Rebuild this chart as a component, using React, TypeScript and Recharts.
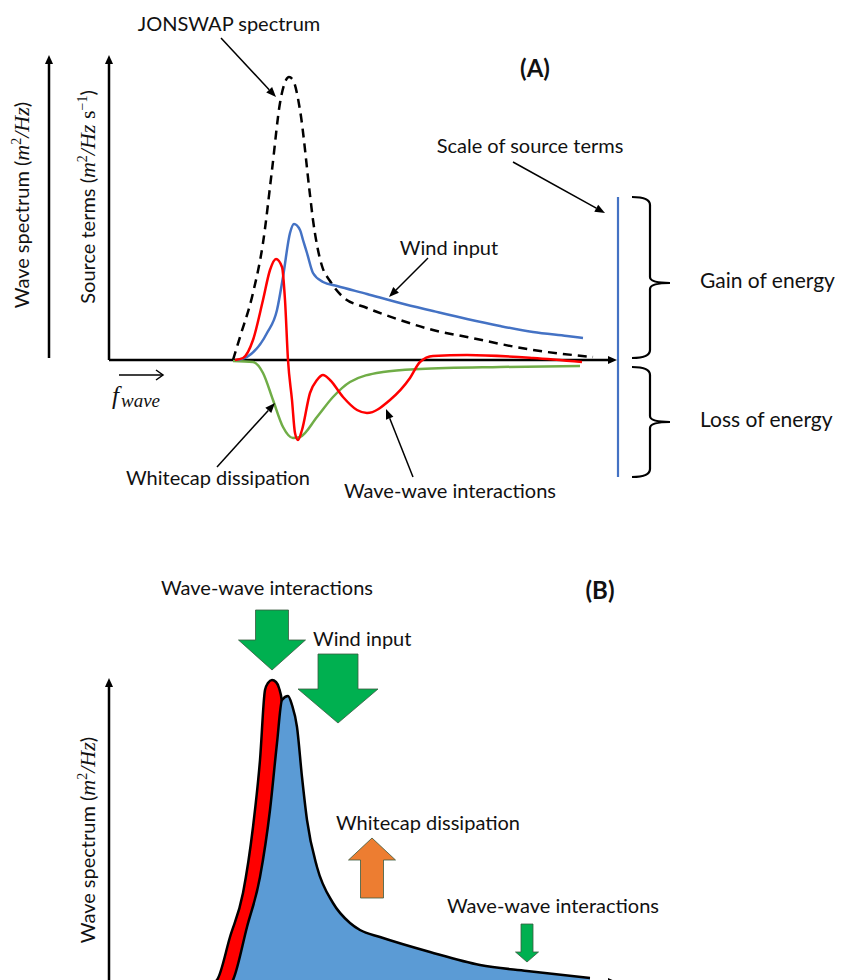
import React from "react";
import { ComposedChart, Line, Area, XAxis, YAxis, ReferenceLine } from "recharts";

// panel A: frequency axis units and curve values
const jonswapF = [31, 32.75, 36, 38.5, 40.75, 42.75, 44.25, 45, 46, 47.75, 50.25, 51, 52, 53.25, 55.25, 58.5, 64.5, 72.75, 81, 89.5, 106, 121];
const jonswapE = [0, 23, 67, 117, 190, 257, 280, 283, 280, 250, 165, 140, 115, 94, 79, 63, 52, 40, 30, 23, 10, 3];

const windF = [32, 34.5, 39.5, 42, 43.5, 45.25, 46.25, 47.75, 48.5, 49.5, 51, 53.5, 57, 64.5, 72.75, 81, 89.5, 97.75, 106, 114.5, 118.5];
const windS = [0, 3, 27, 50, 83, 127, 136, 130, 120, 107, 87, 78, 74, 66, 57, 49, 41, 34, 28, 24, 22];

const nlF = [31.5, 33.5, 36, 38.5, 40.25, 41.75, 43.25, 44, 44.75, 45.75, 46.5, 47.25, 48.25, 50.25, 52, 53.5, 55.25, 58.5, 62, 64.5, 70.25, 75.25, 77.75, 81, 89.5, 106, 118.25];
const nlS = [0, 2, 20, 60, 90, 101, 93, 60, 0, -40, -73, -80, -70, -33, -20, -15, -20, -37, -50, -53, -40, -18, -2, 4, 5, 2, -2];

const wcF = [31, 36, 38.5, 41, 43.5, 46, 47.75, 52, 56, 60.25, 68.5, 77.75, 97.75, 117.75];
const wcS = [-1, -2, -13, -40, -67, -78, -77, -57, -37, -22, -12, -9, -7, -6];

// panel B: spectrum before (red) and after (blue)
const oldF = [26.5, 27, 30.25, 33.5, 36, 37.75, 39, 39.75, 40.75, 41.75, 42.5, 43.25, 44.25, 47.75, 52.75, 57.75];
const oldE = [0, 2, 45, 89, 155, 222, 292, 299, 302, 300, 294, 280, 222, 82, 12, 0];

const newF = [30.75, 31, 34.5, 37.75, 40.25, 42, 43.25, 44.75, 45.75, 47, 48.25, 49.5, 52, 56, 60.25, 62.75, 67.75, 80.25, 92.75, 104.5, 120.25];
const newE = [0, 2, 55, 105, 172, 239, 282, 286, 277, 255, 205, 162, 115, 79, 59, 52, 45, 30, 17, 11, 4];

const pts = (xs: number[], ys: number[]) => xs.map((f, i) => ({ f, v: ys[i] }));

const FONT = "Lato, 'Open Sans', sans-serif";
const MATH = "'Liberation Serif', 'DejaVu Serif', serif";

const AxisArrow = (p: any) => {
  const { x1, y1, x2, y2 } = p;
  const a = Math.atan2(y2 - y1, x2 - x1);
  const L = 9, W = 4;
  const bx = x2 - L * Math.cos(a), by = y2 - L * Math.sin(a);
  const nx = -Math.sin(a) * W, ny = Math.cos(a) * W;
  return (
    <g>
      <line x1={x1} y1={y1} x2={bx} y2={by} stroke="#000" strokeWidth={2.5} />
      <polygon points={`${x2},${y2} ${bx + nx},${by + ny} ${bx - nx},${by - ny}`} fill="#000" />
    </g>
  );
};

function Arrow({ x1, y1, x2, y2, w = 1.5, L = 10, W = 4 }: any) {
  const a = Math.atan2(y2 - y1, x2 - x1);
  const bx = x2 - L * Math.cos(a), by = y2 - L * Math.sin(a);
  const nx = -Math.sin(a) * W, ny = Math.cos(a) * W;
  return (
    <g>
      <line x1={x1} y1={y1} x2={bx} y2={by} stroke="#000" strokeWidth={w} />
      <polygon points={`${x2},${y2} ${bx + nx},${by + ny} ${bx - nx},${by - ny}`} fill="#000" />
    </g>
  );
}

function BlockArrow({ cx, top, bottom, shaftW, headW, headL, up, fill }: any) {
  const s = shaftW / 2, h = headW / 2;
  let d;
  if (!up) {
    const hb = bottom - headL;
    d = `M${cx - s},${top} L${cx + s},${top} L${cx + s},${hb} L${cx + h},${hb} L${cx},${bottom} L${cx - h},${hb} L${cx - s},${hb} Z`;
  } else {
    const hb = top + headL;
    d = `M${cx - s},${bottom} L${cx + s},${bottom} L${cx + s},${hb} L${cx + h},${hb} L${cx},${top} L${cx - h},${hb} L${cx - s},${hb} Z`;
  }
  return <path d={d} fill={fill} stroke="#3a5a40" strokeWidth={0.8} />;
}

function Brace({ x, y1, y2, ym }: any) {
  const d = `M${x},${y1} Q${x + 18},${y1} ${x + 18},${y1 + 8} L${x + 18},${ym - 6} Q${x + 18},${ym} ${x + 38},${ym} Q${x + 18},${ym} ${x + 18},${ym + 6} L${x + 18},${y2 - 8} Q${x + 18},${y2} ${x},${y2}`;
  return <path d={d} fill="none" stroke="#000" strokeWidth={2.2} />;
}

const label = { fontFamily: FONT, fontSize: 20, fill: "#111" } as const;

function SpecLabel({ x, y, source }: any) {
  return (
    <text {...label} transform={`translate(${x},${y}) rotate(-90)`} textAnchor="middle">
      {source ? "Source terms (" : "Wave spectrum ("}
      <tspan fontFamily={MATH} fontStyle="italic" fontSize={22}>m</tspan>
      <tspan fontFamily={MATH} fontSize={14} dy={-8}>2</tspan>
      <tspan fontFamily={MATH} fontStyle="italic" fontSize={22} dy={8}>{source ? "/Hz " : "/Hz"}</tspan>
      {source && <tspan fontFamily={MATH} fontSize={22}>s</tspan>}
      {source && <tspan fontFamily={MATH} fontSize={14} dy={-8}>−1</tspan>}
      <tspan dy={source ? 8 : 0}>)</tspan>
    </text>
  );
}

export default function App() {
  return (
    <div style={{ position: "absolute", left: 0, top: 0, width: 843, height: 980, overflow: "hidden", background: "#fff" }}>
      <div style={{ position: "absolute", left: 0, top: 0 }}>
        <ComposedChart width={843} height={500} margin={{ top: 55, right: 226, bottom: 25, left: 109 }}>
          <XAxis type="number" dataKey="f" domain={[0, 127]} allowDataOverflow hide />
          <YAxis type="number" domain={[-115, 305]} allowDataOverflow hide />
          <ReferenceLine y={0} shape={AxisArrow} ifOverflow="visible" />
          <ReferenceLine segment={[{ x: 0, y: 0 }, { x: 0, y: 305 }]} shape={AxisArrow} ifOverflow="visible" />
          <Line data={pts(jonswapF, jonswapE)} dataKey="v" type="monotone" stroke="#000" strokeWidth={2.5} strokeDasharray="9 6" dot={false} isAnimationActive={false} />
          <Line data={pts(wcF, wcS)} dataKey="v" type="monotone" stroke="#70AD47" strokeWidth={2.5} dot={false} isAnimationActive={false} />
          <Line data={pts(windF, windS)} dataKey="v" type="monotone" stroke="#4472C4" strokeWidth={2.5} dot={false} isAnimationActive={false} />
          <Line data={pts(nlF, nlS)} dataKey="v" type="monotone" stroke="#FF0000" strokeWidth={2.5} dot={false} isAnimationActive={false} />
        </ComposedChart>
      </div>
      <div style={{ position: "absolute", left: 0, top: 500 }}>
        <ComposedChart width={843} height={490} margin={{ top: 178, right: 226, bottom: 8, left: 109 }}>
          <XAxis type="number" dataKey="f" domain={[0, 127]} allowDataOverflow hide />
          <YAxis type="number" domain={[0, 304]} allowDataOverflow hide />
          <Area data={pts(oldF, oldE)} dataKey="v" type="monotone" stroke="#000" strokeWidth={2.5} fill="#FF0000" fillOpacity={1} isAnimationActive={false} />
          <Area data={pts(newF, newE)} dataKey="v" type="monotone" stroke="#000" strokeWidth={2.5} fill="#5B9BD5" fillOpacity={1} isAnimationActive={false} />
          <ReferenceLine y={0} shape={AxisArrow} ifOverflow="visible" />
          <ReferenceLine segment={[{ x: 0, y: 0 }, { x: 0, y: 304 }]} shape={AxisArrow} ifOverflow="visible" />
        </ComposedChart>
      </div>
      <svg width={843} height={980} style={{ position: "absolute", left: 0, top: 0, pointerEvents: "none" }}>
        {/* panel A */}
        <AxisArrow x1={49} y1={358} x2={49} y2={55} />
        <SpecLabel x={29} y={205} />
        <SpecLabel x={95} y={197} source />
        <g>
          <line x1={119} y1={375} x2={163} y2={375} stroke="#000" strokeWidth={1.5} />
          <polyline points="156,370 163,375 156,380" fill="none" stroke="#000" strokeWidth={1.5} />
        </g>
        <text x={112} y={404} fontFamily={MATH} fontStyle="italic" fontSize={25} fill="#111">
          f<tspan fontSize={19} dy={3} dx={2}>wave</tspan>
        </text>
        <text {...label} x={229} y={31} textAnchor="middle">JONSWAP spectrum</text>
        <Arrow x1={221} y1={38} x2={276} y2={97} />
        <text {...label} fontSize={24} x={535} y={77} textAnchor="middle" fontWeight="bold">(A)</text>
        <text {...label} x={530} y={153} textAnchor="middle">Scale of source terms</text>
        <Arrow x1={513} y1={162} x2={605} y2={213} />
        <text {...label} x={449} y={255} textAnchor="middle">Wind input</text>
        <Arrow x1={428} y1={258} x2={389} y2={297} />
        <text {...label} x={218} y={485} textAnchor="middle">Whitecap dissipation</text>
        <Arrow x1={217} y1={467} x2={275} y2={403} />
        <text {...label} x={450} y={498} textAnchor="middle">Wave-wave interactions</text>
        <Arrow x1={413} y1={477} x2={386} y2={409} />
        <line x1={618} y1={197} x2={618} y2={477} stroke="#4472C4" strokeWidth={2.2} />
        <Brace x={632} y1={197} y2={358} ym={283} />
        <Brace x={632} y1={367} y2={477} ym={422} />
        <text {...label} fontSize={21} x={700} y={288}>Gain of energy</text>
        <text {...label} fontSize={21} x={700} y={427}>Loss of energy</text>

        {/* panel B */}
        <SpecLabel x={95} y={840} />
        <text {...label} fontSize={24} x={600} y={599} textAnchor="middle" fontWeight="bold">(B)</text>
        <text {...label} x={267} y={595} textAnchor="middle">Wave-wave interactions</text>
        <BlockArrow cx={272} top={610} bottom={670} shaftW={33} headW={67} headL={30} fill="#00B050" />
        <text {...label} x={313} y={646}>Wind input</text>
        <BlockArrow cx={338} top={654} bottom={723} shaftW={40} headW={80} headL={34} fill="#00B050" />
        <text {...label} x={428} y={830} textAnchor="middle">Whitecap dissipation</text>
        <BlockArrow cx={372} top={838} bottom={898} shaftW={23} headW={47} headL={22} up fill="#ED7D31" />
        <text {...label} x={553} y={913} textAnchor="middle">Wave-wave interactions</text>
        <BlockArrow cx={527} top={924} bottom={962} shaftW={12} headW={23} headL={10} fill="#00B050" />
      </svg>
    </div>
  );
}
